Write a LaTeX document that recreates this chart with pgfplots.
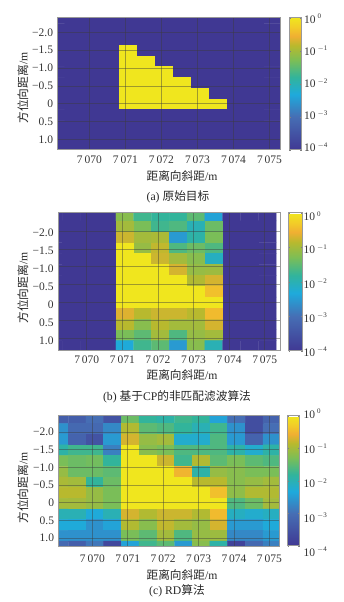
\documentclass[border=0pt]{standalone}
\usepackage{pgfplots}
\pgfplotsset{compat=1.18}
\usepackage{fontspec}
\setmainfont{Liberation Serif}
\newfontfamily\cjk{Noto Sans CJK SC}
\definecolor{gridc}{RGB}{60,60,60}
\pgfplotsset{
  colormap={par}{rgb255(0)=(64,56,147) rgb255(25)=(70,110,180) rgb255(42)=(30,170,220) rgb255(55)=(50,180,155) rgb255(68)=(125,190,85) rgb255(79)=(185,185,45) rgb255(86)=(240,175,50) rgb255(93)=(242,205,40) rgb255(100)=(240,230,30)},
  panel/.style={
    scale only axis, anchor=south west, y dir=reverse,
    colormap name=par, point meta min=-4, point meta max=0,
    axis on top, grid=major,
    grid style={gridc,opacity=0.45,line width=0.55pt},
    axis line style={color=black!40,line width=1pt},
    tick style={draw=none},
    xtick={7070,7071,7072,7073,7074,7075},
    xticklabels={7\,070,7\,071,7\,072,7\,073,7\,074,7\,075},
    ytick={-2,-1.5,-1,-0.5,0,0.5,1},
    yticklabels={−2.0,−1.5,−1.0,−0.5,0,0.5,1.0},
    tick label style={font=\fontsize{11.5}{11.5}\selectfont,color=black!80},
    yticklabel style={inner sep=0pt,xshift=-4.5pt},
    colorbar,
    colorbar style={
      anchor=south west, ytick={-4,-3,-2,-1,0}, yticklabels={},
      axis line style={color=black!40,line width=1pt},
      major tick length=1.5pt, tick style={color=black!50}, grid=none,
      ylabel={}, xlabel={}, xticklabels={}, xtick=\empty, title={},
    },
  },
  cellplot/.style={matrix plot*, mesh/cols=13, mesh/rows=13, point meta=\thisrow{z}},
}
\newcommand{\tl}[2]{\node[anchor=west,inner sep=0pt,text=black!80,font=\fontsize{11.5}{11.5}\selectfont] at (#1) {10\,\raisebox{4.5pt}{\fontsize{7}{7}\selectfont #2}};}
\newcommand{\lab}[3]{\node[text=black!85,inner sep=0pt,font=\fontsize{11.7}{11.7}\selectfont] at (#1) {#2};}
\begin{document}
\begin{tikzpicture}[x=1pt,y=1pt]
\useasboundingbox (0,0) rectangle (343,602);
% ---------- panel a ----------
\begin{axis}[panel, at={(57.7pt,452pt)}, width=223pt, height=132.3pt,
  xmin=7069.12, xmax=7075.31, ymin=-2.41, ymax=1.30,
  xticklabel style={inner sep=0pt,yshift=-6pt},
  colorbar style={at={([xshift=6pt]parent axis.south east)}, width=12.3pt, height=132.3pt}]
\addplot[cellplot] table[row sep=\\, x expr={7069.07+0.5*(mod(\coordindex+0.5,13)-0.5)}, y expr={0.017+0.302*(floor((\coordindex+0.5)/13)-8)}, y index=0] {
z\\
-4\\-4\\-4\\-4\\-4\\-4\\-4\\-4\\-4\\-4\\-4\\-4\\-4\\
-4\\-4\\-4\\-4\\-4\\-4\\-4\\-4\\-4\\-4\\-4\\-4\\-4\\
-4\\-4\\-4\\-4\\-4\\-4\\-4\\-4\\-4\\-4\\-4\\-4\\-4\\
-4\\-4\\-4\\-4\\0\\-4\\-4\\-4\\-4\\-4\\-4\\-4\\-4\\
-4\\-4\\-4\\-4\\0\\0\\-4\\-4\\-4\\-4\\-4\\-4\\-4\\
-4\\-4\\-4\\-4\\0\\0\\0\\-4\\-4\\-4\\-4\\-4\\-4\\
-4\\-4\\-4\\-4\\0\\0\\0\\0\\-4\\-4\\-4\\-4\\-4\\
-4\\-4\\-4\\-4\\0\\0\\0\\0\\0\\-4\\-4\\-4\\-4\\
-4\\-4\\-4\\-4\\0\\0\\0\\0\\0\\0\\-4\\-4\\-4\\
-4\\-4\\-4\\-4\\-4\\-4\\-4\\-4\\-4\\-4\\-4\\-4\\-4\\
-4\\-4\\-4\\-4\\-4\\-4\\-4\\-4\\-4\\-4\\-4\\-4\\-4\\
-4\\-4\\-4\\-4\\-4\\-4\\-4\\-4\\-4\\-4\\-4\\-4\\-4\\
-4\\-4\\-4\\-4\\-4\\-4\\-4\\-4\\-4\\-4\\-4\\-4\\-4\\
};
\end{axis}
% ---------- panel b ----------
\begin{axis}[panel, at={(58.3pt,251pt)}, width=221.7pt, height=138pt,
  xmin=7069.2, xmax=7075.43, ymin=-2.5, ymax=1.355,
  yticklabel style={yshift=-2.3pt},
  xticklabel style={inner sep=0pt,yshift=-5pt},
  colorbar style={at={([xshift=6.5pt]parent axis.south east)}, width=14pt, height=138pt}]
\addplot[cellplot] table[row sep=\\, x expr={7069.07+0.5*(mod(\coordindex+0.5,13)-0.5)}, y expr={0.002+0.304*(floor((\coordindex+0.5)/13)-8)}, y index=0] {
z\\
-4\\-4\\-4\\-4\\-1.2\\-1.7\\-1.8\\-1.8\\-1.5\\-2.4\\-4\\-4\\-4\\
-4\\-4\\-4\\-4\\-1.0\\-1.3\\-1.7\\-1.6\\-2.0\\-1.4\\-4\\-4\\-4\\
-4\\-4\\-4\\-4\\-0.75\\-1.0\\-0.95\\-2.5\\-1.9\\-1.3\\-4\\-4\\-4\\
-4\\-4\\-4\\-4\\0\\-1.1\\-0.8\\-1.6\\-1.4\\-1.6\\-4\\-4\\-4\\
-4\\-4\\-4\\-4\\0\\0\\-0.75\\-1.0\\-1.2\\-2.1\\-4\\-4\\-4\\
-4\\-4\\-4\\-4\\0\\0\\0\\-0.7\\-1.1\\-1.05\\-4\\-4\\-4\\
-4\\-4\\-4\\-4\\0\\0\\0\\0\\-0.9\\-0.7\\-4\\-4\\-4\\
-4\\-4\\-4\\-4\\0\\0\\0\\0\\0\\-0.4\\-4\\-4\\-4\\
-4\\-4\\-4\\-4\\0\\0\\0\\0\\0\\0\\-4\\-4\\-4\\
-4\\-4\\-4\\-4\\-0.65\\-0.85\\-0.75\\-0.75\\-0.85\\-0.45\\-4\\-4\\-4\\
-4\\-4\\-4\\-4\\-0.85\\-1.2\\-0.85\\-1.0\\-1.0\\-0.7\\-4\\-4\\-4\\
-4\\-4\\-4\\-4\\-1.3\\-1.5\\-1.0\\-1.6\\-1.1\\-1.0\\-4\\-4\\-4\\
-4\\-4\\-4\\-4\\-2.3\\-1.7\\-1.5\\-2.5\\-1.2\\-2.0\\-4\\-4\\-4\\
};
\end{axis}
% ---------- panel c ----------
\begin{axis}[panel, at={(58.7pt,56pt)}, width=220.3pt, height=130pt,
  xmin=7069.05, xmax=7075.27, ymin=-2.45, ymax=1.226,
  xticklabel style={inner sep=0pt,yshift=-9pt},
  colorbar style={at={([xshift=5.3pt]parent axis.south east)}, width=12.3pt, height=130pt}]
\addplot[cellplot] table[row sep=\\, x expr={7069.07+0.5*(mod(\coordindex+0.5,13)-0.5)}, y expr={0.029+0.302*(floor((\coordindex+0.5)/13)-8)}, y index=0] {
z\\
-3.3\\-3.3\\-3.0\\-3.5\\-1.4\\-1.8\\-1.9\\-1.7\\-1.8\\-2.4\\-3.0\\-3.6\\-3.2\\
-2.6\\-3.1\\-3.1\\-2.7\\-0.9\\-1.5\\-1.6\\-1.8\\-2.0\\-1.7\\-2.6\\-3.6\\-3.0\\
-2.5\\-3.2\\-3.5\\-2.5\\-0.7\\-1.1\\-1.0\\-2.2\\-2.2\\-1.6\\-2.5\\-3.2\\-2.6\\
-1.9\\-1.7\\-1.7\\-2.8\\0\\-1.2\\-1.3\\-1.6\\-1.6\\-1.6\\-1.9\\-2.2\\-1.9\\
-1.3\\-1.4\\-1.35\\-1.8\\0\\0\\-0.75\\-1.7\\-0.9\\-1.5\\-1.3\\-1.5\\-1.6\\
-1.1\\-1.4\\-1.4\\-1.5\\0\\0\\0\\-0.5\\-1.9\\-1.1\\-1.2\\-1.3\\-1.3\\
-0.95\\-1.0\\-1.8\\-1.4\\0\\0\\0\\0\\-0.85\\-0.85\\-1.2\\-1.1\\-1.0\\
-0.85\\-0.85\\-1.1\\-1.3\\0\\0\\0\\0\\0\\-0.4\\-1.15\\-0.9\\-0.9\\
-1.0\\-1.0\\-1.1\\-1.3\\0\\0\\0\\0\\0\\0\\-1.6\\-1.4\\-1.0\\
-2.0\\-2.0\\-2.3\\-2.0\\-0.7\\-0.9\\-0.75\\-0.75\\-0.9\\-0.45\\-2.1\\-2.2\\-2.1\\
-2.3\\-2.3\\-2.6\\-2.4\\-0.9\\-1.2\\-0.8\\-1.0\\-1.1\\-0.7\\-2.5\\-2.5\\-2.3\\
-2.6\\-2.6\\-2.6\\-2.6\\-1.3\\-1.5\\-1.0\\-1.6\\-1.1\\-1.05\\-2.7\\-2.7\\-2.5\\
-3.1\\-3.3\\-2.9\\-3.7\\-2.4\\-1.7\\-1.5\\-2.5\\-1.2\\-1.9\\-3.8\\-3.1\\-2.8\\
};
\end{axis}
% ---------- colour bar labels ----------
\tl{304,583.5}{0}\tl{304,551}{$-$1}\tl{304,519}{$-$2}\tl{304,487}{$-$3}\tl{304,454.5}{$-$4}
\tl{303.5,386}{0}\tl{303.5,352.5}{$-$1}\tl{303.5,318.5}{$-$2}\tl{303.5,284.5}{$-$3}\tl{303.5,250}{$-$4}
\tl{303.5,188.5}{0}\tl{303.5,153.5}{$-$1}\tl{303.5,119}{$-$2}\tl{303.5,84.5}{$-$3}\tl{303.5,50}{$-$4}
% ---------- axis labels and captions ----------
\lab{182,426}{{\cjk 距离向斜距}/m}{}
\lab{178,405}{(a) {\cjk 原始目标}}{}
\lab{182,227}{{\cjk 距离向斜距}/m}{}
\lab{177,205}{(b) {\cjk 基于}CP{\cjk 的非匹配滤波算法}}{}
\lab{182,27}{{\cjk 距离向斜距}/m}{}
\lab{177,11}{(c) RD{\cjk 算法}}{}
\node[rotate=90,inner sep=0pt,text=black!85,font=\fontsize{11.7}{11.7}\selectfont] at (23,514) {{\cjk 方位向距离}/m};
\node[rotate=90,inner sep=0pt,text=black!85,font=\fontsize{11.7}{11.7}\selectfont] at (23,314) {{\cjk 方位向距离}/m};
\node[rotate=90,inner sep=0pt,text=black!85,font=\fontsize{11.7}{11.7}\selectfont] at (23,114) {{\cjk 方位向距离}/m};
\end{tikzpicture}
\end{document}
